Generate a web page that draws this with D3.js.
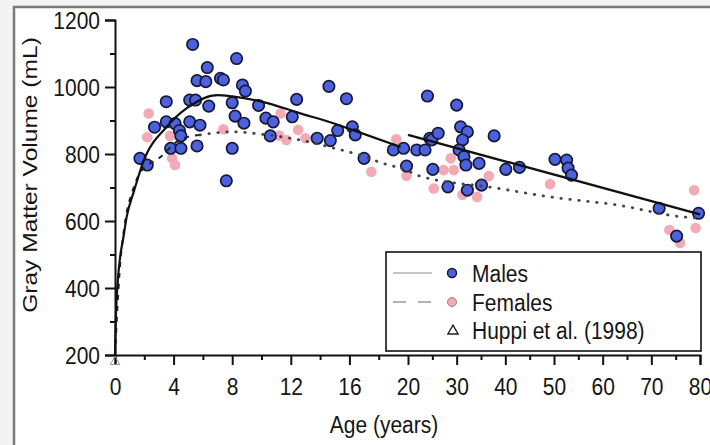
<!DOCTYPE html>
<html>
<head>
<meta charset="utf-8">
<script src="https://cdn.jsdelivr.net/npm/d3@7"></script>
<style>
  body { margin: 0; background: #fff; }
  svg { display: block; font-family: "Liberation Sans", Arial, sans-serif; }
</style>
</head>
<body>
<script>
// chart size and plot box
var w = 710;
var h = 445;
var plotLeft = 115, plotRight = 700, plotTop = 20, plotBottom = 355;

// ---- data ----
var maleAge = [1.7, 2.2, 2.7, 3.5, 3.5, 4.1, 4.4, 4.5, 3.8, 4.5, 5.6, 5.3, 6.3, 5.6, 6.2, 7.2, 7.4,
  5.1, 5.5, 6.4, 5.1, 5.8, 8.3, 8.7, 8.9, 8.0, 8.2, 8.8, 8.0, 7.6, 9.8, 10.3, 10.8, 10.6, 12.1,
  12.4, 13.8, 14.7, 14.6, 15.8, 15.2, 16.2, 16.4, 17.0, 19.0, 19.7, 19.9,
  21.8, 23.5, 24.5, 24.9, 26.2, 24.0, 30.0, 30.8, 32.2, 31.2, 30.5, 31.5, 31.9, 34.6, 37.7,
  25.1, 28.2, 32.2, 35.1, 40.1, 42.9, 50.2, 52.6, 52.9, 53.6, 71.6, 79.7, 75.2];
var maleVol = [787, 767, 880, 956, 896, 891, 870, 854, 817, 817, 824, 1127, 1058, 1019, 1016, 1026, 1021,
  961, 961, 943, 896, 886, 1085, 1006, 988, 953, 913, 892, 817, 720, 945, 907, 896, 854, 911,
  963, 847, 840, 1002, 965, 870, 881, 857, 787, 812, 817, 764,
  812, 812, 847, 842, 862, 973, 946, 881, 866, 842, 812, 792, 767, 772, 854,
  754, 702, 692, 707, 754, 760, 784, 782, 758, 737, 638, 623, 555];

var femaleAge = [2.3, 2.2, 3.75, 3.9, 4.1, 7.4, 11.3, 11.2, 11.7, 12.5, 13.0, 17.5, 19.2, 19.9,
  28.8, 27.3, 29.4, 25.3, 31.2, 34.2, 36.6, 49.2, 78.8, 73.7, 75.9, 79.1];
var femaleVol = [921, 850, 854, 787, 767, 874, 921, 855, 842, 872, 847, 747, 844, 735,
  787, 752, 752, 697, 678, 672, 734, 710, 692, 573, 534, 579];

var huppiAge = [0];
var huppiVol = [180];

// fitted curves
var maleFitAgeA = [0, 0.05, 0.15, 0.35, 0.55, 0.8, 1.3, 1.9, 3.5, 4.9, 7.0, 8.0, 10.4, 12.6, 14.9, 16.2, 19.5];
var maleFitVolA = [200, 300, 395, 493, 545, 613, 690, 773, 880, 937, 976, 972, 952, 922, 892, 872, 821];
var maleFitAgeB = [20, 80];
var maleFitVolB = [857, 620];
var femaleFitAge = [0, 0.3, 0.7, 1.2, 1.7, 3.1, 4.4, 5.8, 8.0, 10.4, 12.6, 14.9, 16.7, 18.3, 20, 21.8, 38.3, 49.2, 62.9, 76.6, 79.5];
var femaleFitVol = [200, 440, 600, 690, 743, 791, 842, 857, 866, 857, 842, 818, 797, 772, 750, 737, 698, 672, 648, 612, 609];

// axis ticks
var xMajor = [0, 4, 8, 12, 16, 20, 30, 40, 50, 60, 70, 80];
var xMinor = [2, 6, 10, 14, 18, 25, 35, 45, 55, 65, 75];
var yMajor = [200, 400, 600, 800, 1000, 1200];
var yMinor = [300, 500, 700, 900, 1100];

var legendLabels = ["Males", "Females", "Huppi et al. (1998)"];

// ---- scales: age axis is stretched below 20 years ----
var xScale = d3.scaleLinear().domain([0, 20, 80]).range([plotLeft, 408, plotRight]);
var yScale = d3.scaleLinear().domain([200, 1200]).range([plotBottom, plotTop]);

var svg = d3.select("body").append("svg")
  .attr("width", w)
  .attr("height", h);

// outer page + frame
svg.append("rect").attr("width", w).attr("height", h).attr("fill", "#f3f3f3");
svg.append("rect")
  .attr("x", 14).attr("y", 7).attr("width", w).attr("height", h)
  .attr("fill", "#fff").attr("stroke", "#7a7a7a").attr("stroke-width", 2.5);

var stretch = "scale(1,1.15)";
var ink = "#151515";

// x axis
var xAxis = d3.axisBottom(xScale).tickValues(xMajor).tickSize(10).tickFormat(d3.format("d"));
var gx = svg.append("g")
  .attr("transform", "translate(0," + plotBottom + ")")
  .call(xAxis);
gx.selectAll(".tick text")
  .attr("y", 0).attr("dy", 0)
  .attr("transform", "translate(0,40) " + stretch);
svg.append("g")
  .attr("transform", "translate(0," + plotBottom + ")")
  .call(d3.axisBottom(xScale).tickValues(xMinor).tickSize(5).tickFormat(""))
  .select(".domain").remove();

// y axis
var yAxis = d3.axisLeft(yScale).tickValues(yMajor).tickSize(10).tickFormat(d3.format("d"));
var gy = svg.append("g")
  .attr("transform", "translate(" + plotLeft + ",0)")
  .call(yAxis);
gy.selectAll(".tick text")
  .attr("x", 0).attr("dy", 0)
  .attr("transform", "translate(-15,8) " + stretch);
svg.append("g")
  .attr("transform", "translate(" + plotLeft + ",0)")
  .call(d3.axisLeft(yScale).tickValues(yMinor).tickSize(5).tickFormat(""))
  .select(".domain").remove();

svg.selectAll(".domain").attr("stroke", "#111").attr("stroke-width", 2);
svg.selectAll(".tick line").attr("stroke", "#111").attr("stroke-width", 2);
svg.selectAll(".tick text")
  .attr("font-family", "Liberation Sans, Arial, sans-serif")
  .attr("font-size", 21)
  .attr("fill", ink);

// axis titles
svg.append("text")
  .attr("transform", "translate(384,433) " + stretch)
  .attr("text-anchor", "middle")
  .attr("font-size", 21)
  .attr("fill", ink)
  .text("Age (years)");

svg.append("text")
  .attr("transform", "translate(37,175) rotate(-90) scale(1.17,1)")
  .attr("text-anchor", "middle")
  .attr("font-size", 21)
  .attr("fill", ink)
  .text("Gray Matter Volume (mL)");

// points
var female = femaleAge.map(function(a, i) { return [a, femaleVol[i]]; });
var male = maleAge.map(function(a, i) { return [a, maleVol[i]]; });

svg.append("g").selectAll("circle")
  .data(female)
  .enter().append("circle")
  .attr("cx", function(d) { return xScale(d[0]); })
  .attr("cy", function(d) { return yScale(d[1]); })
  .attr("r", 5.3)
  .attr("fill", "#f2aab5");

svg.append("g").selectAll("circle")
  .data(male)
  .enter().append("circle")
  .attr("cx", function(d) { return xScale(d[0]); })
  .attr("cy", function(d) { return yScale(d[1]); })
  .attr("r", 5.7)
  .attr("fill", "#4c62dc")
  .attr("stroke", "#161838")
  .attr("stroke-width", 1.7);

// fitted lines
var line = d3.line()
  .x(function(d) { return xScale(d[0]); })
  .y(function(d) { return yScale(d[1]); })
  .curve(d3.curveMonotoneX);

var femaleFit = femaleFitAge.map(function(a, i) { return [a, femaleFitVol[i]]; });
// dashed near the start, dotted afterwards
svg.append("path")
  .datum(femaleFit.slice(0, 8))
  .attr("d", line)
  .attr("fill", "none").attr("stroke", "#222").attr("stroke-width", 2)
  .attr("stroke-dasharray", "5,6");
svg.append("path")
  .datum(femaleFit.slice(7))
  .attr("d", line)
  .attr("fill", "none").attr("stroke", "#444").attr("stroke-width", 2.8)
  .attr("stroke-linecap", "round")
  .attr("stroke-dasharray", "0.5,8.5");

svg.append("path")
  .datum(maleFitAgeA.map(function(a, i) { return [a, maleFitVolA[i]]; }))
  .attr("d", line)
  .attr("fill", "none").attr("stroke", "#111").attr("stroke-width", 2.2);
svg.append("path")
  .datum(maleFitAgeB.map(function(a, i) { return [a, maleFitVolB[i]]; }))
  .attr("d", line)
  .attr("fill", "none").attr("stroke", "#111").attr("stroke-width", 2.4);

// Huppi marker
svg.selectAll(".huppi")
  .data(huppiAge)
  .enter().append("path")
  .attr("class", "huppi")
  .attr("transform", function(d, i) { return "translate(" + xScale(d) + "," + yScale(huppiVol[i]) + ")"; })
  .attr("d", d3.symbol().type(d3.symbolTriangle).size(40))
  .attr("fill", "none").attr("stroke", "#999").attr("stroke-width", 1);

// legend
var lg = svg.append("g");
lg.append("rect")
  .attr("x", 386).attr("y", 252).attr("width", 315).attr("height", 99)
  .attr("fill", "#fff").attr("stroke", "#111").attr("stroke-width", 1.6);

var rowY = [273, 302, 330];
lg.append("line").attr("x1", 393).attr("x2", 432).attr("y1", rowY[0]).attr("y2", rowY[0])
  .attr("stroke", "#888").attr("stroke-width", 1);
lg.append("line").attr("x1", 393).attr("x2", 432).attr("y1", rowY[1]).attr("y2", rowY[1])
  .attr("stroke", "#666").attr("stroke-width", 1.2).attr("stroke-dasharray", "13,12");
lg.append("circle").attr("cx", 452).attr("cy", rowY[0]).attr("r", 4.5)
  .attr("fill", "#4c62dc").attr("stroke", "#161838").attr("stroke-width", 1.4);
lg.append("circle").attr("cx", 452).attr("cy", rowY[1]).attr("r", 4.5)
  .attr("fill", "#f2aab5").attr("stroke", "#888").attr("stroke-width", 1);
lg.append("path")
  .attr("transform", "translate(453," + (rowY[2] + 1) + ")")
  .attr("d", d3.symbol().type(d3.symbolTriangle).size(45))
  .attr("fill", "none").attr("stroke", "#222").attr("stroke-width", 1.4);

lg.selectAll("text.leg")
  .data(legendLabels)
  .enter().append("text")
  .attr("class", "leg")
  .attr("transform", function(d, i) { return "translate(472," + (rowY[i] + 9) + ") " + stretch; })
  .attr("font-size", 21)
  .attr("fill", ink)
  .text(function(d) { return d; });
</script>
</body>
</html>
